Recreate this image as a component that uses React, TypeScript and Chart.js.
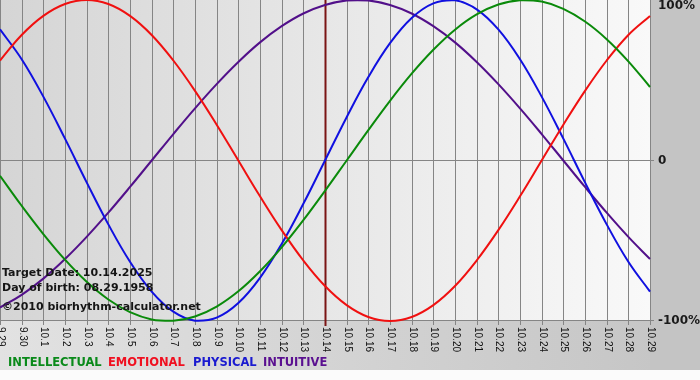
import React, { useEffect, useRef } from "react";
import { Chart, registerables } from "chart.js";

Chart.register(...registerables);

const dayLabels = [
  "9.29", "9.30", "10.1", "10.2", "10.3", "10.4", "10.5", "10.6", "10.7", "10.8",
  "10.9", "10.10", "10.11", "10.12", "10.13", "10.14", "10.15", "10.16", "10.17", "10.18",
  "10.19", "10.20", "10.21", "10.22", "10.23", "10.24", "10.25", "10.26", "10.27", "10.28", "10.29",
];

const intellectual = [
  -9.5, -28.2, -45.8, -61.8, -75.6, -86.6, -94.5, -99.0, -99.9, -97.2,
  -91.0, -81.5, -69.0, -54.1, -37.2, -18.9, 0, 18.9, 37.2, 54.1,
  69.0, 81.5, 91.0, 97.2, 99.9, 99.0, 94.5, 86.6, 75.6, 61.8, 45.8,
];

const emotional = [
  62.3, 78.2, 90.1, 97.5, 100, 97.5, 90.1, 78.2, 62.3, 43.4,
  22.3, 0, -22.3, -43.4, -62.3, -78.2, -90.1, -97.5, -100, -97.5,
  -90.1, -78.2, -62.3, -43.4, -22.3, 0, 22.3, 43.4, 62.3, 78.2, 90.1,
];

const physical = [
  81.7, 63.1, 39.8, 13.6, -13.6, -39.8, -63.1, -81.7, -94.2, -99.8,
  -97.9, -88.8, -73.1, -52.0, -27.0, 0, 27.0, 52.0, 73.1, 88.8,
  97.9, 99.8, 94.2, 81.7, 63.1, 39.8, 13.6, -13.6, -39.8, -63.1, -81.7,
];

const intuitive = [
  -91.6, -83.7, -73.6, -61.4, -47.6, -32.5, -16.5, 0, 16.5, 32.5,
  47.6, 61.4, 73.6, 83.7, 91.6, 96.9, 99.7, 99.7, 96.9, 91.6,
  83.7, 73.6, 61.4, 47.6, 32.5, 16.5, 0, -16.5, -32.5, -47.6, -61.4,
];

const yTickLabels = ["100%", "0", "-100%"];
const yTickValues = [100, 0, -100];
const targetLabel = "10.14";
const infoLines = ["Target Date: 10.14.2025", "Day of birth: 08.29.1958", "\u00A92010 biorhythm-calculator.net"];
const legendNames = ["INTELLECTUAL", "EMOTIONAL", "PHYSICAL", "INTUITIVE"];
const seriesColors = ["#0a8a0a", "#f01010", "#1010e0", "#52108a"];
const legendColors = ["#0a8a1a", "#f01020", "#1a1ad0", "#5a1090"];

const decorPlugin = {
  id: "decor",
  beforeDraw(chart: any) {
    const { ctx, chartArea } = chart;
    const W = chart.width;
    const H = chart.height;
    ctx.save();
    ctx.fillStyle = "#fbfbfb";
    ctx.fillRect(0, 0, W, H);
    const gb = ctx.createLinearGradient(0, 0, W, 0);
    gb.addColorStop(0, "#e2e2e2");
    gb.addColorStop(1, "#c4c4c4");
    ctx.fillStyle = gb;
    ctx.fillRect(0, chartArea.bottom, W, 370 - chartArea.bottom);
    ctx.fillStyle = "#c4c4c4";
    ctx.fillRect(chartArea.right, 0, W - chartArea.right, 370);
    const gp = ctx.createLinearGradient(chartArea.left, 0, chartArea.right, 0);
    gp.addColorStop(0, "#d5d5d5");
    gp.addColorStop(1, "#f9f9f9");
    ctx.fillStyle = gp;
    ctx.fillRect(chartArea.left, chartArea.top, chartArea.right - chartArea.left, chartArea.bottom - chartArea.top);
    ctx.restore();
  },
  beforeDatasetsDraw(chart: any) {
    const { ctx, chartArea, scales } = chart;
    const xs = scales.x;
    const ys = scales.y;
    ctx.save();
    ctx.strokeStyle = "#858585";
    ctx.lineWidth = 1;
    dayLabels.forEach((lab, i) => {
      const x = Math.round(xs.getPixelForValue(i)) + 0.5;
      ctx.beginPath();
      ctx.moveTo(x, chartArea.top);
      ctx.lineTo(x, chartArea.bottom + 4);
      ctx.stroke();
    });
    const y0 = Math.round(ys.getPixelForValue(0)) - 0.5;
    ctx.beginPath();
    ctx.moveTo(chartArea.left, y0);
    ctx.lineTo(chartArea.right + 4, y0);
    ctx.stroke();
    const yb = Math.round(ys.getPixelForValue(-100)) - 0.5;
    ctx.beginPath();
    ctx.moveTo(chartArea.left, yb);
    ctx.lineTo(chartArea.right + 4, yb);
    ctx.stroke();
    const ti = dayLabels.indexOf(targetLabel);
    const tx = Math.round(xs.getPixelForValue(ti)) + 0.5;
    ctx.strokeStyle = "#7a1414";
    ctx.lineWidth = 2;
    ctx.beginPath();
    ctx.moveTo(tx, chartArea.top);
    ctx.lineTo(tx, chartArea.bottom + 5);
    ctx.stroke();
    ctx.restore();
  },
  afterDatasetsDraw(chart: any) {
    const { ctx, chartArea, scales } = chart;
    const xs = scales.x;
    const ys = scales.y;
    ctx.save();
    ctx.fillStyle = "#111";
    ctx.font = "10px 'Liberation Sans'";
    ctx.textAlign = "left";
    ctx.textBaseline = "middle";
    dayLabels.forEach((lab, i) => {
      const x = Math.round(xs.getPixelForValue(i)) + 0.5;
      ctx.save();
      ctx.translate(x, chartArea.bottom + 6);
      ctx.rotate(Math.PI / 2);
      ctx.fillText(lab, 0, 0);
      ctx.restore();
    });
    ctx.font = "bold 12px 'DejaVu Sans'";
    ctx.fillStyle = "#1a1a1a";
    ctx.textBaseline = "middle";
    yTickLabels.forEach((t, k) => {
      let y = ys.getPixelForValue(yTickValues[k]);
      if (k === 0) y += 6;
      ctx.fillText(t, chartArea.right + 8, y);
    });
    ctx.textBaseline = "alphabetic";
    ctx.font = "bold 11px 'DejaVu Sans'";
    ctx.fillStyle = "#151515";
    ctx.fillText(infoLines[0], 2, 276);
    ctx.fillText(infoLines[1], 2, 291);
    ctx.fillText(infoLines[2], 2, 310);
    ctx.font = "bold 11.5px 'DejaVu Sans'";
    const legendX = [8, 108, 193, 263];
    legendNames.forEach((n, k) => {
      ctx.fillStyle = legendColors[k];
      ctx.fillText(n, legendX[k], 366);
    });
    ctx.restore();
  },
};

export default function App() {
  const ref = useRef<HTMLCanvasElement | null>(null);
  useEffect(() => {
    document.body.style.margin = "0";
    if (!ref.current) return;
    const series = [intellectual, emotional, physical, intuitive];
    const chart = new Chart(ref.current, {
      type: "line",
      data: {
        labels: dayLabels,
        datasets: series.map((d, k) => ({
          label: legendNames[k],
          data: d,
          borderColor: seriesColors[k],
          backgroundColor: seriesColors[k],
          borderWidth: 2,
          pointRadius: 0,
          tension: 0.4,
          fill: false,
          clip: false as any,
        })),
      },
      options: {
        responsive: false,
        animation: false,
        devicePixelRatio: 1,
        layout: { padding: { left: 0, right: 50, top: 0, bottom: 59 } },
        plugins: { legend: { display: false }, tooltip: { enabled: false } },
        scales: {
          x: { display: false, offset: false },
          y: { display: false, min: -100, max: 100 },
        },
      },
      plugins: [decorPlugin],
    });
    return () => chart.destroy();
  }, []);
  return <canvas ref={ref} width={700} height={380} style={{ display: "block" }} />;
}
